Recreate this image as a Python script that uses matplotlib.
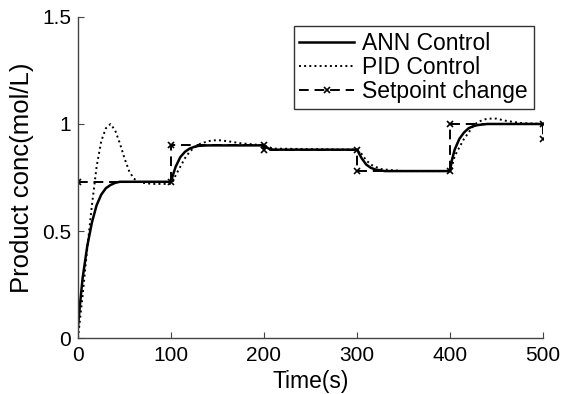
import matplotlib
import matplotlib.pyplot as plt

matplotlib.use('Agg')

plt.rcParams['font.family'] = ['Liberation Sans', 'DejaVu Sans']

# ANN control response
ann_t = [0, 2, 5, 10, 15, 20, 25, 30, 35, 40, 45, 50, 100,
         102, 105, 110, 115, 120, 125, 130, 140, 200,
         205, 210, 300,
         305, 310, 315, 320, 330, 400,
         402, 405, 410, 415, 420, 425, 430, 440, 500]
ann_y = [0.05, 0.15, 0.28, 0.43, 0.54, 0.62, 0.67, 0.70, 0.715, 0.725, 0.73, 0.73, 0.73,
         0.76, 0.80, 0.845, 0.87, 0.885, 0.893, 0.898, 0.90, 0.90,
         0.885, 0.88, 0.88,
         0.84, 0.81, 0.795, 0.787, 0.78, 0.78,
         0.83, 0.88, 0.93, 0.96, 0.98, 0.99, 0.995, 1.0, 1.0]

# PID control response
pid_t = [0, 5, 10, 15, 20, 25, 30, 35, 40, 45, 50, 55, 60, 65, 70, 80, 90, 100,
         102, 105, 110, 115, 120, 125, 130, 140, 150, 160, 175, 200,
         210, 300,
         305, 310, 315, 320, 325, 335, 350, 400,
         402, 405, 410, 415, 420, 425, 430, 440, 450, 460, 475, 500]
pid_y = [0.0, 0.2, 0.42, 0.62, 0.80, 0.92, 0.98, 1.0, 0.97, 0.91, 0.84, 0.78, 0.745, 0.73, 0.725, 0.72, 0.72, 0.72,
         0.73, 0.76, 0.80, 0.84, 0.87, 0.89, 0.905, 0.92, 0.925, 0.92, 0.91, 0.90,
         0.885, 0.88,
         0.86, 0.83, 0.81, 0.80, 0.79, 0.785, 0.78, 0.78,
         0.80, 0.85, 0.89, 0.93, 0.96, 0.99, 1.01, 1.025, 1.025, 1.015, 1.005, 1.0]

# setpoint changes
sp_t = [0, 100, 100, 200, 200, 300, 300, 400, 400, 500, 500]
sp_y = [0.73, 0.73, 0.9, 0.9, 0.88, 0.88, 0.78, 0.78, 1.0, 1.0, 0.93]

fig = plt.figure(figsize=(5.63, 3.94), dpi=100)
ax = fig.add_axes([0.1385, 0.142, 0.826, 0.815])

ax.plot(ann_t, ann_y, color='black', linestyle='-', linewidth=1.8, label='ANN Control')
ax.plot(pid_t, pid_y, color='black', linestyle=':', linewidth=1.4, label='PID Control')
ax.plot(sp_t, sp_y, color='black', linestyle='--', linewidth=1.4, marker='x',
        markersize=5, markeredgewidth=1.2, dashes=(5, 3), label='Setpoint change')

ax.set_xlim(0, 500)
ax.set_ylim(0, 1.5)
ax.set_xticks([0, 100, 200, 300, 400, 500])
ax.set_yticks([0, 0.5, 1, 1.5])
ax.set_yticklabels(['0', '0.5', '1', '1.5'])

for s in ['top', 'right']:
    ax.spines[s].set_visible(False)
for s in ['left', 'bottom']:
    ax.spines[s].set_color('#444444')
    ax.spines[s].set_linewidth(1.0)
ax.tick_params(direction='in', length=4, colors='#444444', labelcolor='black',
               labelsize=15)
ax.tick_params(axis='x', pad=6)
ax.tick_params(axis='y', pad=5)

ax.set_xlabel('Time(s)', fontsize=16.5, labelpad=3)
ax.set_ylabel('Product conc(mol/L)', fontsize=18.5, labelpad=6)

leg = ax.legend(loc='upper right', fontsize=16.5, fancybox=False, framealpha=1,
                edgecolor='#333333', handlelength=2.4, borderpad=0.25,
                labelspacing=0.05, handletextpad=0.35, borderaxespad=0.4)
leg.get_frame().set_linewidth(1.0)

plt.savefig('out.png', dpi=100)
